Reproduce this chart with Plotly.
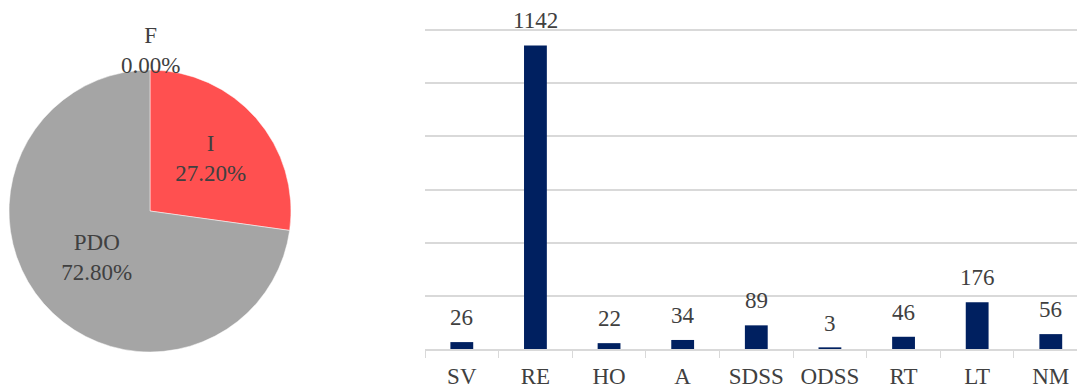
import plotly.graph_objects as go

# Pie data
pie_labels = ["F", "I", "PDO"]
pie_values = [0.0, 27.2, 72.8]
pie_colors = ["#4472C4", "#FF5050", "#A5A5A5"]

# Bar data
bar_cats = ["SV", "RE", "HO", "A", "SDSS", "ODSS", "RT", "LT", "NM"]
bar_vals = [26, 1142, 22, 34, 89, 3, 46, 176, 56]

W, H = 1077, 391
FONT = "Liberation Serif"
TXT = "#404040"
YMAX = 1210

fig = go.Figure()

total = sum(pie_values)
tt = ["" if v == 0 else "%{label}<br>%{percent:.2%}" for v in pie_values]

fig.add_trace(go.Pie(
    labels=pie_labels, values=pie_values, sort=False, direction="clockwise",
    rotation=0, marker=dict(colors=pie_colors, line=dict(color="white", width=0.5)),
    texttemplate=tt, textposition="inside", insidetextorientation="horizontal",
    textfont=dict(family=FONT, size=23, color=TXT),
    domain=dict(x=[9 / W, 291 / W], y=[(H - 352) / H, (H - 70) / H]),
    showlegend=False, hoverinfo="label+percent",
))

# zero-value slice label (outside, top)
for lab, v in zip(pie_labels, pie_values):
    if v == 0:
        fig.add_annotation(
            x=150 / W, y=(H - 70) / H, xref="paper", yref="paper",
            xanchor="center", yanchor="bottom", showarrow=False,
            text=f"{lab}<br>{v / total:.2%}",
            font=dict(family=FONT, size=23, color=TXT), yshift=-10,
        )

fig.add_trace(go.Bar(
    x=bar_cats, y=bar_vals, marker=dict(color="#002060", line=dict(width=0)),
    width=0.31, xaxis="x", yaxis="y", showlegend=False,
))

for c, v in zip(bar_cats, bar_vals):
    fig.add_annotation(
        x=c, y=v, xref="x", yref="y", xanchor="center", yanchor="bottom",
        showarrow=False, text=str(v), yshift=10,
        font=dict(family=FONT, size=23, color=TXT),
    )

top_px = 30 - (YMAX - 1200) / 1200 * (349 - 30)

fig.update_layout(
    width=W, height=H, margin=dict(l=0, r=0, t=0, b=0, autoexpand=False),
    paper_bgcolor="white", plot_bgcolor="white",
    font=dict(family=FONT, color=TXT),
    xaxis=dict(
        domain=[425 / W, 1.0], range=[-0.5, 8.356], type="category",
        showline=True, linecolor="#D9D9D9", linewidth=1.5,
        ticks="outside", tickson="boundaries", ticklen=7, tickcolor="#D9D9D9",
        tickfont=dict(family=FONT, size=23, color=TXT), showgrid=False,
        fixedrange=True, automargin=False, ticklabelstandoff=6,
    ),
    yaxis=dict(
        domain=[(H - 349) / H, (H - top_px) / H], range=[0, YMAX], dtick=200,
        showgrid=True, gridcolor="#D9D9D9", gridwidth=1.5,
        showticklabels=False, zeroline=False, fixedrange=True, automargin=False,
    ),
)

fig.write_html("out.html", config={"displayModeBar": False},
               post_script="document.body.style.margin='0';")
